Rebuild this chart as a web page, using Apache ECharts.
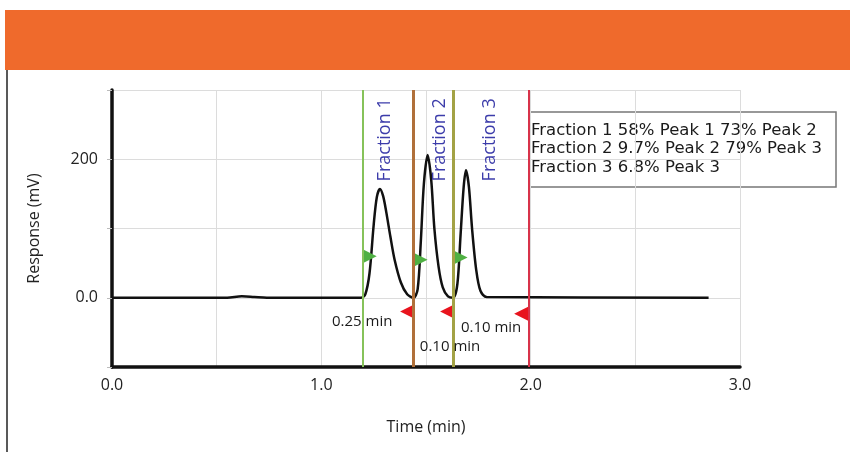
<!DOCTYPE html>
<html>
<head>
<meta charset="utf-8">
<script src="https://cdn.jsdelivr.net/npm/echarts@6/dist/echarts.min.js"></script>
<style>
  html, body { margin: 0; padding: 0; background: #fff; }
  #main { width: 850px; height: 454px; }
</style>
</head>
<body>
<div id="main"></div>
<script>
// chromatogram trace (time in min, response in mV)
const traceTime = [0, 0.55, 0.62, 0.68, 0.74, 1.19, 1.21, 1.23, 1.25, 1.265, 1.28, 1.295, 1.31, 1.33, 1.35, 1.38, 1.41, 1.44,
  1.46, 1.475, 1.49, 1.508, 1.525, 1.54, 1.56, 1.58, 1.605, 1.63,
  1.65, 1.665, 1.68, 1.691, 1.705, 1.72, 1.74, 1.76, 1.79, 2.85];
const traceResp = [0, 0, 2, 1, 0, 0, 5, 35, 105, 145, 157, 147, 124, 88, 55, 22, 5, 0,
  12, 80, 165, 206, 170, 100, 45, 15, 2, 0,
  20, 90, 160, 184, 160, 100, 40, 10, 1, 0];

// fraction cut lines
const cutTimes = [1.20, 1.443, 1.634, 1.988];
const cutColors = ['#86c25a', '#b0703a', '#a3a245', '#d8334a'];

// start / end markers
const startMarks = [[1.20, 60], [1.443, 55], [1.634, 58]];
const endMarks = [[1.443, -20], [1.634, -20], [1.988, -23]];

const fractionNames = ['Fraction 1', 'Fraction 2', 'Fraction 3'];
const fractionPos = [[1.304, 228], [1.567, 228], [1.806, 228]];

const durationText = ['0.25 min', '0.10 min', '0.10 min'];
const durationPos = [[1.195, -35], [1.615, -71], [1.811, -44]];

const resultLines = [
  'Fraction 1 58% Peak 1 73% Peak 2',
  'Fraction 2 9.7% Peak 2 79% Peak 3',
  'Fraction 3 6.8% Peak 3'
];

const xTicks = [0, 1, 2, 3];
const yTicks = [0, 200];

const font = 'Open Sans, Noto Sans, sans-serif';

var myChart = echarts.init(document.getElementById('main'));

var option = {
  animation: false,
  grid: { left: 112, right: 110, top: 90, bottom: 87 },
  graphic: [
    { type: 'rect', shape: { x: 5, y: 10, width: 845, height: 60 }, style: { fill: '#ef6a2c' } },
    { type: 'line', shape: { x1: 7, y1: 70, x2: 7, y2: 452 }, style: { stroke: '#222', lineWidth: 1.5 } },
    {
      type: 'group', z: 100,
      children: [
        { type: 'rect', shape: { x: 530, y: 112, width: 306, height: 75 },
          style: { fill: '#fff', stroke: '#777', lineWidth: 1.5 } },
        { type: 'text', left: 531, top: 121,
          style: { text: resultLines.join('\n'), font: '16.5px DejaVu Sans, sans-serif', fill: '#1a1a1a', lineHeight: 18.5 } }
      ]
    }
  ],
  xAxis: {
    type: 'value', min: 0, max: 3, interval: 0.5,
    name: 'Time (min)', nameLocation: 'middle', nameGap: 52,
    nameTextStyle: { fontSize: 16, color: '#222', fontFamily: font },
    axisLine: { onZero: false, lineStyle: { color: '#111', width: 3.5 } },
    axisTick: { show: false },
    splitLine: { lineStyle: { color: '#dcdcdc' } },
    axisLabel: {
      margin: 10, fontSize: 16, color: '#222', fontFamily: font,
      formatter: v => xTicks.includes(v) ? v.toFixed(1) : ''
    }
  },
  yAxis: {
    type: 'value', min: -100, max: 300, interval: 100,
    name: 'Response (mV)', nameLocation: 'middle', nameGap: 70,
    nameTextStyle: { fontSize: 16, color: '#222', fontFamily: font },
    axisLine: { show: true, lineStyle: { color: '#111', width: 3.5 } },
    axisTick: { show: true, length: 5, lineStyle: { color: '#bbb' } },
    splitLine: { lineStyle: { color: '#dcdcdc' } },
    axisLabel: {
      margin: 14, fontSize: 16, color: '#222', fontFamily: font,
      formatter: v => yTicks.includes(v) ? (v === 0 ? '0.0' : String(v)) : ''
    }
  },
  series: [
    {
      type: 'line',
      data: traceTime.map((t, i) => [t, traceResp[i]]),
      showSymbol: false,
      smooth: 0.3,
      lineStyle: { color: '#111', width: 2.5 },
      z: 3,
      markLine: {
        silent: true,
        symbol: 'none',
        label: { show: false },
        data: cutTimes.map((t, i) => ({
          xAxis: t,
          lineStyle: { color: cutColors[i], width: i === 0 || i === 3 ? 2 : 3, type: 'solid' }
        }))
      }
    },
    {
      type: 'scatter',
      data: startMarks,
      symbol: 'triangle',
      symbolSize: 13,
      symbolRotate: -90,
      symbolOffset: [7, 0],
      itemStyle: { color: '#4fb043', opacity: 1 },
      z: 4
    },
    {
      type: 'scatter',
      data: endMarks,
      symbol: 'triangle',
      symbolSize: 14,
      symbolRotate: 90,
      symbolOffset: [-7, 0],
      itemStyle: { color: '#e8141e', opacity: 1 },
      z: 4
    },
    {
      type: 'scatter',
      data: fractionPos.map((p, i) => ({ value: p, name: fractionNames[i] })),
      symbolSize: 0,
      itemStyle: { opacity: 1 },
      label: {
        show: true, position: 'inside', rotate: 90,
        formatter: p => p.name,
        fontSize: 18, color: '#3c3caa', opacity: 1, fontFamily: font
      },
      z: 5
    },
    {
      type: 'scatter',
      data: durationPos.map((p, i) => ({ value: p, name: durationText[i] })),
      symbolSize: 0,
      itemStyle: { opacity: 1 },
      label: {
        show: true, position: 'inside',
        formatter: p => p.name,
        fontSize: 15, color: '#1a1a1a', opacity: 1, fontFamily: font
      },
      z: 5
    }
  ]
};

myChart.setOption(option);
</script>
</body>
</html>
